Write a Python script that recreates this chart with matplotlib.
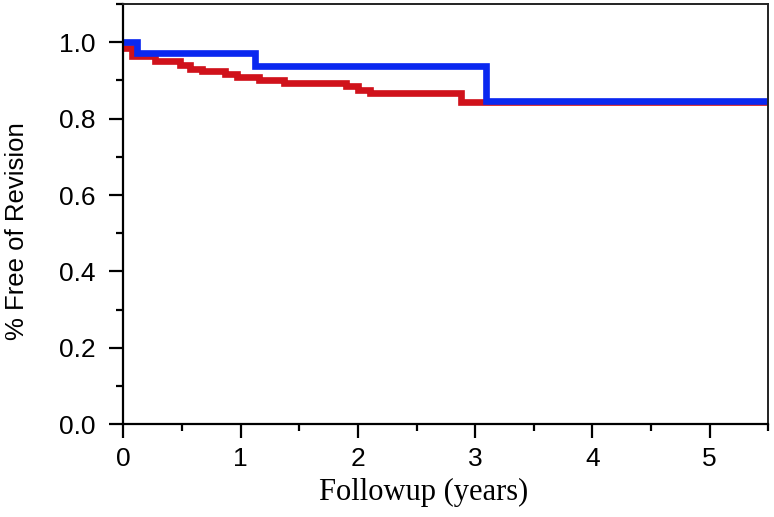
from matplotlib import pyplot as plt
from matplotlib.ticker import MultipleLocator

# Kaplan-Meier style step curves
red_t = [0.0, 0.07, 0.27, 0.48, 0.57, 0.67, 0.87, 0.97, 1.16, 1.37, 1.90, 2.00, 2.10, 2.88, 5.5]
red_s = [0.985, 0.963, 0.952, 0.941, 0.931, 0.925, 0.917, 0.910, 0.902, 0.894, 0.885, 0.876, 0.866, 0.843, 0.843]

blue_t = [0.0, 0.12, 1.12, 3.09, 5.5]
blue_s = [1.0, 0.972, 0.939, 0.845, 0.845]

xticks = [0, 1, 2, 3, 4, 5]
yticks = [0.0, 0.2, 0.4, 0.6, 0.8, 1.0]

fig = plt.figure(figsize=(7.74, 5.17), dpi=100)
ax = fig.add_axes([0.1593, 0.1793, 0.8334, 0.813])

ax.step(red_t, red_s, where='post', color='#d0121b', linewidth=4.8,
        solid_joinstyle='miter', solid_capstyle='butt')
ax.step(blue_t, blue_s, where='post', color='#0a28f0', linewidth=4.8,
        solid_joinstyle='miter', solid_capstyle='butt')

ax.set_xlim(0, 5.5)
ax.set_ylim(0, 1.1)
ax.set_xticks(xticks)
ax.set_yticks(yticks)
ax.set_yticklabels(["%.1f" % v for v in yticks])
ax.xaxis.set_minor_locator(MultipleLocator(0.5))
ax.yaxis.set_minor_locator(MultipleLocator(0.1))

for side in ['left', 'bottom']:
    ax.spines[side].set_linewidth(1.6)
for side in ['top', 'right']:
    ax.spines[side].set_linewidth(1.4)
    ax.spines[side].set_color('#222222')

ax.tick_params(which='major', direction='out', length=10, width=1.6,
               labelsize=19, pad=6)
ax.tick_params(which='minor', direction='out', length=5, width=1.6)
ax.tick_params(axis='y', which='major', pad=10)
for lab in ax.get_xticklabels() + ax.get_yticklabels():
    lab.set_family('Liberation Sans')

ax.set_ylabel('% Free of Revision', fontsize=18.5, family='Liberation Sans',
              va='center')
ax.yaxis.set_label_coords(-0.165, 0.46)
ax.set_xlabel('Followup (years)', fontsize=22, family='Liberation Serif',
              va='center')
ax.xaxis.set_label_coords(0.466, -0.163)

plt.savefig('out.png', dpi=100)
